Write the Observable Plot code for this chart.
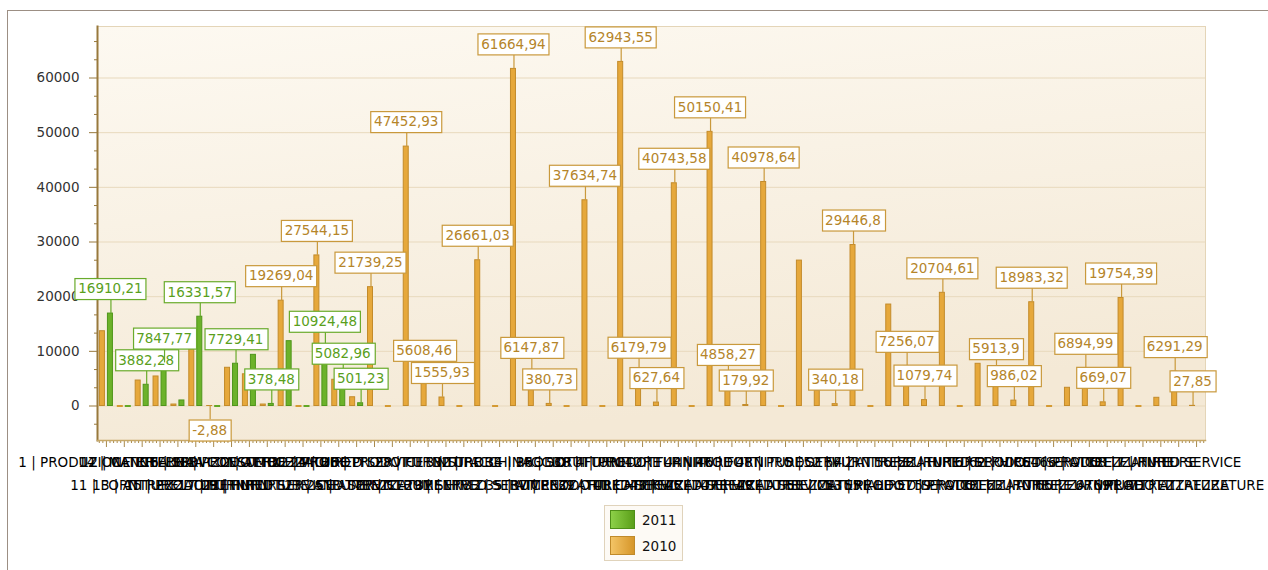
<!DOCTYPE html>
<html><head><meta charset="utf-8">
<script src="https://cdn.jsdelivr.net/npm/d3@7"></script>
<script src="https://cdn.jsdelivr.net/npm/@observablehq/plot@0.6"></script>
<style>
html,body{margin:0;padding:0;overflow:hidden;background:#fff;font-family:"DejaVu Sans",sans-serif;width:1268px;height:570px;}
#frame{position:absolute;left:7px;top:10px;width:1300px;height:600px;border:1px solid #9c8f84;box-sizing:border-box;}
#chart{position:absolute;left:0;top:0;}
#legend{position:absolute;left:604px;top:505px;width:79px;height:56px;border:1px solid #e0d3bb;background:#fdfaf5;box-sizing:border-box;}
.item{position:absolute;left:5px;height:19px;display:flex;align-items:center;font-size:13.5px;color:#111;}
.sw{width:25px;height:19px;margin-right:7px;box-sizing:border-box;}
</style></head><body>
<div id="frame"></div>
<div id="chart"></div>
<div id="legend"></div>
<script>
// ---------- data ----------
const categories = [
  "1 | PRODUZIONE INTERNA","11 | FORNITURE","12 | CANCELLERIA","13 | ATTREZZATURE","14 | MATERIALE DI CONSUMO",
  "15 | PRODOTTI FINITI","16 | SERVIZI ESTERNI","17 | FURNITURE","18 | PRODOTTI CHIMICI","19 | HIRED SERVICE",
  "2 | ATTREZZATURE","21 | FURNITURE AND SERVICE","22 | PRODOTTI","23 | STRUMENTI","24 | HIRED SERVICE",
  "25 | ATTREZZATURE","26 | PRODOTTI FINITI","27 | STRUMENTI","28 | FURNITURE","29 | SERVIZI",
  "3 | STROBE","31 | HIRED SERVICE","32 | FACCHINAGGIO","33 | STRUMENTI","34 | PRODOTTI",
  "35 | ATTREZZATURE","36 | STRUTTURE","37 | PRODOTTI CHIMICI","38 | FURNITURE","39 | HIRED SERVICE",
  "4 | PRODOTTI FINITI","41 | ATTREZZATURE","42 | FURNITURE","43 | HIRED SERVICE","44 | PRODOTTI",
  "45 | ATTREZZATURE","46 | FURNITURE","47 | HIRED SERVICE","48 | PRODOTTI","49 | ATTREZZATURE",
  "5 | SERVIZI","51 | MATERIALE","52 | FURNITURE","53 | PRODOTTI","54 | ATTREZZATURE",
  "55 | HIRED SERVICE","56 | FURNITURE","57 | PRODOTTI","58 | HIRED SERVICE","59 | ATTREZZATURE",
  "6 | PRODOTTI","61 | FURNITURE","62 | HIRED SERVICE","63 | ATTREZZATURE","64 | PRODOTTI",
  "65 | FURNITURE","66 | ATTREZZATURE","67 | PRODOTTI","68 | FURNITURE","69 | ATTREZZATURE",
  "7 | HIRED SERVICE","71 | ATTREZZATURE"
];
const series = ["2011", "2010"];
const values2011 = [16910.21, 0, 3882.28, 7847.77, 1012.5, 16331.57, 0, 7729.41, 9360.4, 378.48, 11860.2, 0, 10924.48, 5082.96, 501.23];
const values2010 = [13680.5, 0, 4660.3, 5400.7, 270.2, 11200, -2.88, 6990.4, 5800.6, 270.5,
  19269.04, 0, 27544.15, 4800.3, 1600.2, 21739.25, 0, 47452.93, 5608.46, 1555.93,
  0, 26661.03, 0, 61664.94, 6147.87, 380.73, 0, 37634.74, 0, 62943.55,
  6179.79, 627.64, 40743.58, 0, 50150.41, 4858.27, 179.92, 40978.64, 0, 26600,
  2840, 340.18, 29446.8, 0, 18560, 7256.07, 1079.74, 20704.61, 0, 7720,
  5913.9, 986.02, 18983.32, 0, 3330, 6894.99, 669.07, 19754.39, 0, 1500,
  6291.29, 27.85];
// which value labels survive the overlap resolution of the original chart
const show2011 = [1,0,1,1,0,1,0,1,0,1,0,0,1,1,1];
const show2010 = [0,0,0,0,0,0,1,0,0,0, 1,0,1,0,0,1,0,1,1,1, 0,1,0,1,1,1,0,1,0,1,
  1,1,1,0,1,1,1,1,0,0, 0,1,1,0,0,1,1,1,0,0, 1,1,1,0,0,1,1,1,0,0, 1,1];
const yTicks = [0, 10000, 20000, 30000, 40000, 50000, 60000];

// ---------- styles ----------
const C = {
  green: "#6cb22a", greenStroke: "#4f961b", greenText: "#5a9f1c", greenBox: "#6aab2c",
  orange: "#e6a83b", orangeStroke: "#c38b2b", orangeText: "#b5852a", orangeBox: "#c9993c",
  axis: "#98793c", tick: "#a98a4c"
};
const W = 1268, H = 500, ML = 97, MR = 63, MT = 26, MB = 60;
const bw = (W - ML - MR) / categories.length;
const fmt = v => String(v).replace(".", ",");

const rows2011 = values2011.map((v, i) => ({cat: categories[i], v, show: show2011[i]}));
const rows2010 = values2010.map((v, i) => ({cat: categories[i], v, show: show2010[i]}));

const yMinor = d3.range(-1, 21).filter(k => k % 3 !== 0).map(k => k * 10000 / 3);

const defs = () => {
  const s = d3.create("svg:defs");
  const g = s.append("linearGradient").attr("id", "plotBg").attr("x1", 0).attr("y1", 0).attr("x2", 0.3).attr("y2", 1);
  g.append("stop").attr("offset", "0%").attr("stop-color", "#fdf9f1");
  g.append("stop").attr("offset", "100%").attr("stop-color", "#f4e9d6");
  return s.node();
};

const oL = bw / 2 - 6.5, oR = bw / 2 + 1.5;

const chart = Plot.plot({
  width: W, height: H,
  marginLeft: ML, marginRight: MR, marginTop: MT, marginBottom: MB,
  style: {fontFamily: "DejaVu Sans", fontSize: "13.5px", background: "transparent", overflow: "visible"},
  x: {type: "band", domain: categories, padding: 0, label: null, axis: null},
  y: {domain: [-6311, 69421], label: null, axis: null},
  marks: [
    defs,
    Plot.frame({fill: "url(#plotBg)", stroke: "#e4d5b8"}),
    Plot.gridY(yTicks, {stroke: "#e8d9bd", strokeOpacity: 1}),
    Plot.axisY({ticks: yMinor, tickSize: 3, text: null, stroke: C.axis}),
    Plot.axisY({ticks: yTicks, tickSize: 8, tickPadding: 10, tickFormat: d => String(d), stroke: C.axis, fill: "#333", fontSize: 13.5}),
    Plot.axisX({ticks: categories, tickSize: 7, text: null, stroke: C.tick}),
    ...[-2, -1, 1, 2].map(k => Plot.axisX({ticks: categories, tickSize: 3, text: null, dx: k * bw / 5, stroke: C.tick})),
    Plot.axisX({ticks: categories.filter((_, i) => i % 2 === 0), tickSize: 0, tickPadding: 17.4, fill: "#000", fontSize: 13.5}),
    Plot.axisX({ticks: categories.filter((_, i) => i % 2 === 1), tickSize: 0, tickPadding: 40.4, fill: "#000", fontSize: 13.5}),
    Plot.frame({anchor: "left", stroke: C.axis, strokeWidth: 2}),
    Plot.frame({anchor: "bottom", stroke: "#c7a867", strokeWidth: 1.5}),
    Plot.barY(rows2010, {x: "cat", y: "v", fill: C.orange, stroke: C.orangeStroke, insetLeft: oL, insetRight: oR}),
    Plot.barY(rows2011, {x: "cat", y: "v", fill: C.green, stroke: C.greenStroke, insetLeft: oR, insetRight: oL}),
    Plot.tickY(rows2010.filter(d => d.v === 0), {x: "cat", y: "v", stroke: "#d49a33", strokeWidth: 2, insetLeft: oL - 0.5, insetRight: oR - 0.5}),
    Plot.tickY(rows2011.filter(d => d.v === 0), {x: "cat", y: "v", stroke: "#62a826", strokeWidth: 2, insetLeft: oR - 0.5, insetRight: oL - 0.5}),
    Plot.text(rows2011.filter(d => d.show && d.v > 0), {x: "cat", y: "v", text: d => fmt(d.v), dx: 4, dy: -24.5, fill: C.greenText, fontSize: 13.5}),
    Plot.text(rows2010.filter(d => d.show && d.v > 0), {x: "cat", y: "v", text: d => fmt(d.v), dx: -4, dy: -24.5, fill: C.orangeText, fontSize: 13.5}),
    Plot.text(rows2010.filter(d => d.show && d.v < 0), {x: "cat", y: "v", text: d => fmt(d.v), dx: -4, dy: 24.5, fill: C.orangeText, fontSize: 13.5})
  ]
});
document.getElementById("chart").append(chart);

// value label boxes + leader lines
const ns = "http://www.w3.org/2000/svg";
const specs = [{box: C.greenBox, dir: 1}, {box: C.orangeBox, dir: 1}, {box: C.orangeBox, dir: -1}];
chart.querySelectorAll('g[aria-label="text"]').forEach((g, gi) => {
  const spec = specs[gi];
  if (!spec) return;
  g.querySelectorAll("text").forEach(t => {
    const b = t.getBBox();
    const cx = b.x + b.width / 2, cy = b.y + b.height / 2;
    const tr = t.getAttribute("transform");
    const rect = document.createElementNS(ns, "rect");
    rect.setAttribute("x", Math.round(b.x - 3.5) + 0.5);
    rect.setAttribute("y", Math.round(cy - 10.5) + 0.5);
    rect.setAttribute("width", Math.round(b.width + 7));
    rect.setAttribute("height", 21);
    rect.setAttribute("fill", "#fff");
    rect.setAttribute("stroke", spec.box);
    rect.setAttribute("stroke-width", 1.2);
    const line = document.createElementNS(ns, "line");
    line.setAttribute("x1", Math.round(cx) + 0.5); line.setAttribute("x2", Math.round(cx) + 0.5);
    line.setAttribute("y1", cy + spec.dir * 10.5); line.setAttribute("y2", cy + spec.dir * 24.5);
    line.setAttribute("stroke", spec.box);
    line.setAttribute("stroke-width", 1.2);
    if (tr) { rect.setAttribute("transform", tr); line.setAttribute("transform", tr); }
    g.insertBefore(line, t);
    g.insertBefore(rect, t);
  });
});

// legend
const legendColors = {
  "2011": ["linear-gradient(to right,#8cd048,#5b9f19)", "#4e8f18"],
  "2010": ["linear-gradient(to right,#f3c466,#d6962a)", "#c08a2a"]
};
const leg = document.getElementById("legend");
series.forEach((s, i) => {
  const it = document.createElement("div");
  it.className = "item";
  it.style.top = (4 + i * 26) + "px";
  const sw = document.createElement("div");
  sw.className = "sw";
  sw.style.background = legendColors[s][0];
  sw.style.border = "1px solid " + legendColors[s][1];
  it.append(sw, document.createTextNode(s));
  leg.append(it);
});
</script>
</body></html>
